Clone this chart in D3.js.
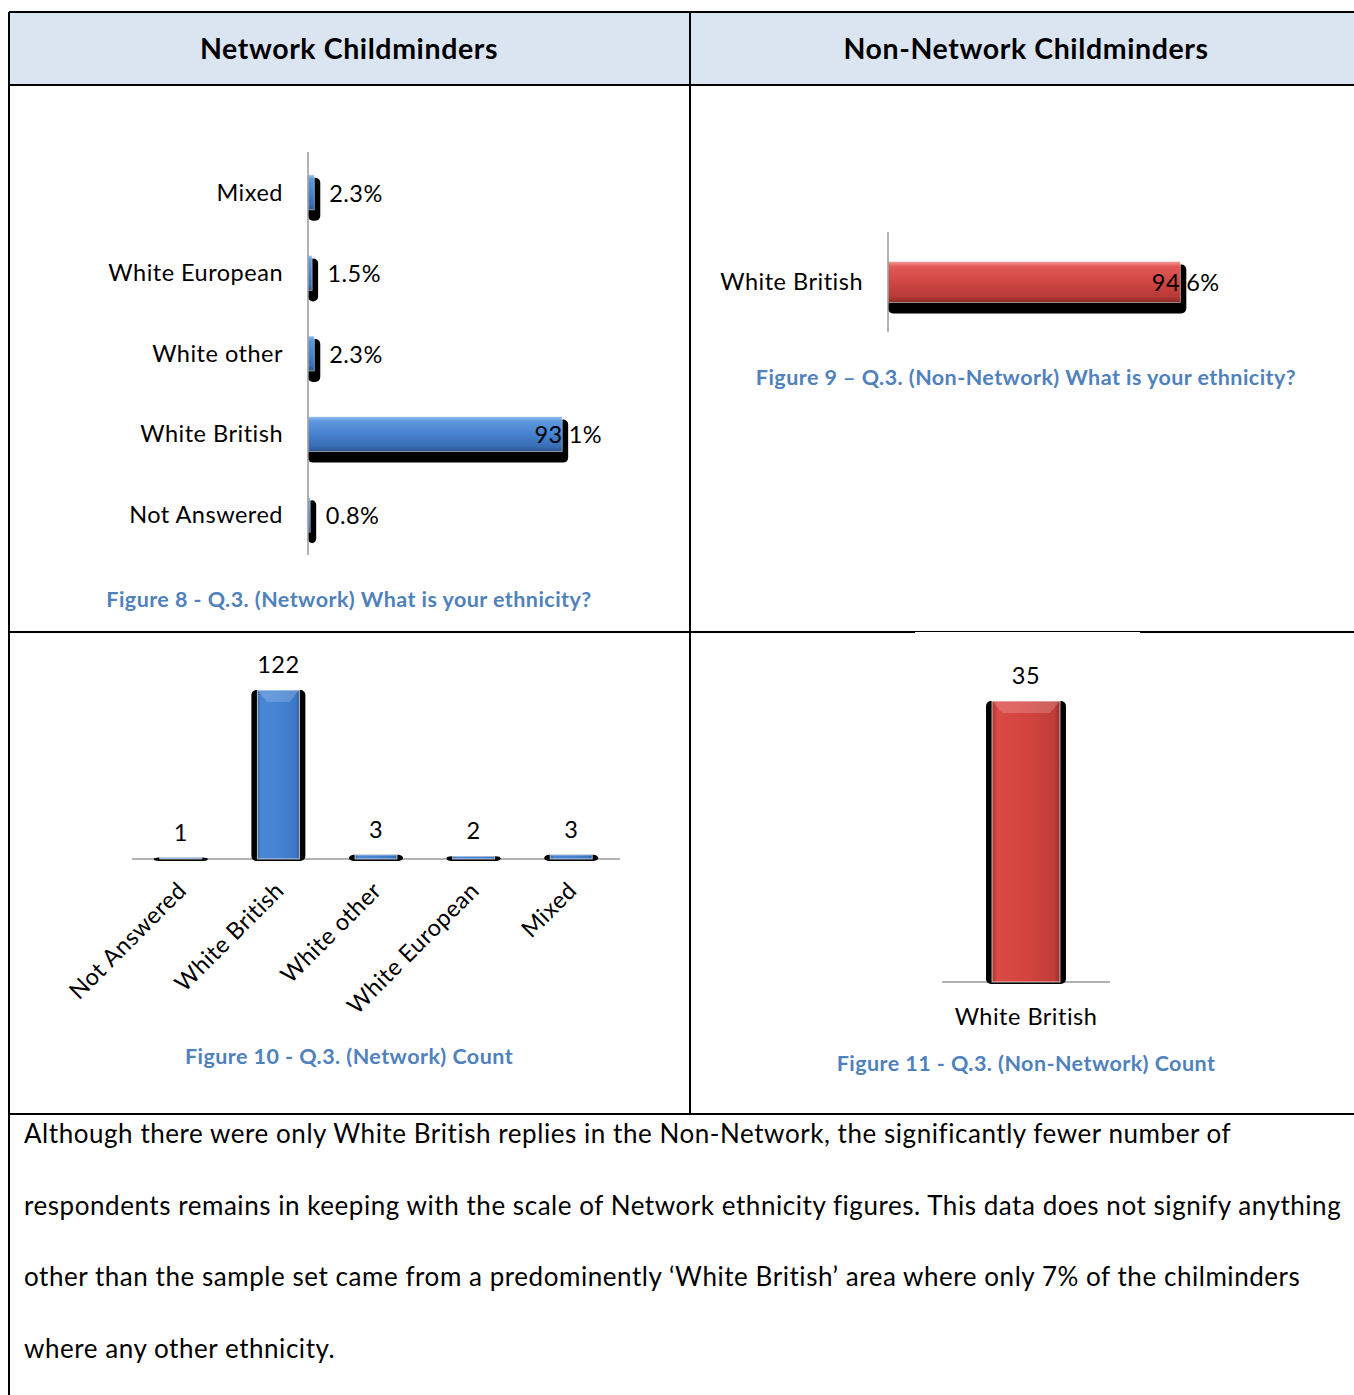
<!DOCTYPE html>
<html>
<head>
<meta charset="utf-8">
<script src="https://cdnjs.cloudflare.com/ajax/libs/d3/7.8.5/d3.min.js"></script>
<style>
  html, body { margin: 0; padding: 0; background: #fff; }
  svg { display: block; font-family: Lato, 'Noto Sans', sans-serif; }
</style>
</head>
<body>
<svg id="page" width="1354" height="1395"></svg>
<script>
'use strict';

// headers and captions
const headers = ['Network Childminders', 'Non-Network Childminders'];
const captions = [
  'Figure 8 - Q.3. (Network) What is your ethnicity?',
  'Figure 9 \u2013 Q.3. (Non-Network) What is your ethnicity?',
  'Figure 10 - Q.3. (Network) Count',
  'Figure 11 - Q.3. (Non-Network) Count',
];

// Figure 8 / 9 - percentages (top to bottom)
const networkCategories = ['Mixed', 'White European', 'White other', 'White British', 'Not Answered'];
const networkPercent = [2.3, 1.5, 2.3, 93.1, 0.8];
const nonNetworkCategories = ['White British'];
const nonNetworkPercent = [94.6];

// Figure 10 / 11 - counts (left to right)
const countCategories = ['Not Answered', 'White British', 'White other', 'White European', 'Mixed'];
const networkCount = [1, 122, 3, 2, 3];
const nonNetworkCount = [35];

const paragraph = [
  'Although there were only White British replies in the Non-Network, the significantly fewer number of',
  'respondents remains in keeping with the scale of Network ethnicity figures. This data does not signify anything',
  'other than the sample set came from a predominently \u2018White British\u2019 area where only 7% of the chilminders',
  'where any other ethnicity.',
];

const svg = d3.select('#page');
const captionColour = '#4f81bd';
const labelSize = 23.5;
const labelSpacing = 0.5;

// gradients for the bevelled bars
const defs = svg.append('defs');
function addGradient(id, stops, vertical) {
  const grad = defs
    .append('linearGradient')
    .attr('id', id)
    .attr('x1', 0)
    .attr('y1', 0)
    .attr('x2', vertical ? 0 : 1)
    .attr('y2', vertical ? 1 : 0);
  stops.forEach(function(s) {
    grad.append('stop').attr('offset', s[0]).attr('stop-color', s[1]);
  });
}
addGradient('blueH', [[0, '#9cc3f0'], [0.12, '#5e98dd'], [0.5, '#4682cf'], [0.85, '#3a6eb6'], [1, '#2b548e']], true);
addGradient('redH', [[0, '#f39b98'], [0.12, '#e25a57'], [0.5, '#cf4642'], [0.85, '#b73a37'], [1, '#8c2a28']], true);
addGradient('blueV', [[0, '#2f64aa'], [0.08, '#4a88d6'], [0.5, '#4583d2'], [0.92, '#3d78c4'], [1, '#2a5a9a']], false);
addGradient('redV', [[0, '#a83330'], [0.08, '#db4a46'], [0.5, '#d4443f'], [0.92, '#c03d39'], [1, '#952c2a']], false);

/**
 * table grid with header row
 */
function drawTable() {
  svg.append('rect')
    .attr('x', 9).attr('y', 12)
    .attr('width', 1354 - 9).attr('height', 73)
    .attr('fill', '#dbe5f1');

  const lines = [
    [9, 12, 1354, 12],
    [9, 85, 1354, 85],
    [9, 632, 915, 632],
    [1140, 632, 1354, 632],
    [9, 1114, 1354, 1114],
    [9, 12, 9, 1395],
    [690, 12, 690, 1114],
  ];
  svg.selectAll('line.grid')
    .data(lines)
    .enter()
    .append('line')
    .attr('class', 'grid')
    .attr('x1', d => d[0]).attr('y1', d => d[1])
    .attr('x2', d => d[2]).attr('y2', d => d[3])
    .attr('stroke', '#000')
    .attr('stroke-width', 2);
  // thin piece of the row divider
  svg.append('line')
    .attr('x1', 915).attr('y1', 631.5).attr('x2', 1140).attr('y2', 631.5)
    .attr('stroke', '#000').attr('stroke-width', 1);

  svg.selectAll('text.header')
    .data(headers)
    .enter()
    .append('text')
    .attr('class', 'header')
    .attr('x', (d, i) => (i === 0 ? 349 : 1026))
    .attr('y', 59)
    .attr('text-anchor', 'middle')
    .attr('font-size', 28.5)
    .attr('letter-spacing', 0.6)
    .attr('font-weight', 'bold')
    .text(d => d);
}

/**
 * caption below a figure
 */
function drawCaption(text, x, y) {
  svg.append('text')
    .attr('x', x)
    .attr('y', y)
    .attr('text-anchor', 'middle')
    .attr('font-size', 21.5)
    .attr('letter-spacing', 0.45)
    .attr('font-weight', 'bold')
    .attr('fill', captionColour)
    .text(text);
}

/**
 * horizontal percentage bars with black drop shadow
 * @param {Object} o - x0, width (for 100%), y range, padding, gradient
 */
function drawHBars(categories, values, o) {
  const g = svg.append('g');
  const x = d3.scaleLinear().domain([0, 100]).range([o.x0, o.x0 + o.width]);
  const y = d3.scaleBand()
    .domain(categories)
    .range(o.yRange)
    .paddingInner(o.padding)
    .paddingOuter(o.outer);
  const data = categories.map((c, i) => ({ c: c, v: values[i] }));

  // shadow
  g.selectAll('rect.shadow')
    .data(data)
    .enter()
    .append('rect')
    .attr('class', 'shadow')
    .attr('x', o.x0)
    .attr('y', d => y(d.c) + 3)
    .attr('width', d => x(d.v) - o.x0 + 6)
    .attr('height', y.bandwidth() + 8)
    .attr('rx', 5)
    .attr('fill', '#000');

  g.selectAll('rect.bar')
    .data(data)
    .enter()
    .append('rect')
    .attr('class', 'bar')
    .attr('x', o.x0)
    .attr('y', d => y(d.c))
    .attr('width', d => x(d.v) - o.x0)
    .attr('height', y.bandwidth())
    .attr('fill', 'url(#' + o.fill + ')')
    .attr('stroke', '#fff')
    .attr('stroke-opacity', 0.6)
    .attr('stroke-width', 0.8);

  // axis line
  g.append('line')
    .attr('x1', o.x0).attr('x2', o.x0)
    .attr('y1', o.yRange[0]).attr('y2', o.yRange[1])
    .attr('stroke', '#999')
    .attr('stroke-width', 1.5);

  // category labels
  g.selectAll('text.cat')
    .data(data)
    .enter()
    .append('text')
    .attr('class', 'cat')
    .attr('x', o.x0 - 25)
    .attr('y', d => y(d.c) + y.bandwidth() / 2)
    .attr('dy', '0.35em')
    .attr('text-anchor', 'end')
    .attr('font-size', labelSize)
    .attr('letter-spacing', labelSpacing)
    .text(d => d.c);

  // value labels (the big bars get them drawn over their ends)
  g.selectAll('text.val')
    .data(data)
    .enter()
    .append('text')
    .attr('class', 'val')
    .attr('x', d => x(d.v) + 16 - d.v * 0.47)
    .attr('y', d => y(d.c) + y.bandwidth() / 2 + 1)
    .attr('dy', '0.35em')
    .attr('font-size', labelSize)
    .attr('letter-spacing', labelSpacing)
    .text(d => d.v.toFixed(1) + '%');
}

/**
 * vertical count columns
 * @param {Object} o - x range, baseline, top, padding, gradient
 */
function drawColumns(categories, values, o) {
  const g = svg.append('g');
  const x = d3.scaleBand()
    .domain(categories)
    .range(o.xRange)
    .paddingInner(o.padding)
    .paddingOuter(o.outer);
  const y = d3.scaleLinear()
    .domain([0, d3.max(values)])
    .range([o.base, o.top]);
  const data = categories.map((c, i) => ({ c: c, v: values[i] }));

  g.append('line')
    .attr('x1', o.xRange[0]).attr('x2', o.xRange[1])
    .attr('y1', o.base).attr('y2', o.base)
    .attr('stroke', '#999')
    .attr('stroke-width', 1.5);

  // dark sides
  g.selectAll('rect.shadow')
    .data(data)
    .enter()
    .append('rect')
    .attr('class', 'shadow')
    .attr('x', d => x(d.c) - 6)
    .attr('y', d => y(d.v))
    .attr('width', x.bandwidth() + 12)
    .attr('height', d => o.base - y(d.v) + 2)
    .attr('rx', 5)
    .attr('fill', '#000');

  g.selectAll('rect.bar')
    .data(data)
    .enter()
    .append('rect')
    .attr('class', 'bar')
    .attr('x', d => x(d.c))
    .attr('y', d => y(d.v))
    .attr('width', x.bandwidth())
    .attr('height', d => o.base - y(d.v))
    .attr('fill', 'url(#' + o.fill + ')')
    .attr('stroke', '#fff')
    .attr('stroke-opacity', 0.7)
    .attr('stroke-width', 1);

  // light bevel on top
  g.selectAll('path.bevel')
    .data(data.filter(d => o.base - y(d.v) > 20))
    .enter()
    .append('path')
    .attr('class', 'bevel')
    .attr('d', function(d) {
      const x0 = x(d.c);
      const x1 = x0 + x.bandwidth();
      const t = y(d.v);
      return 'M' + x0 + ',' + t + 'L' + x1 + ',' + t + 'L' + (x1 - 10) + ',' + (t + 12) +
        'L' + (x0 + 10) + ',' + (t + 12) + 'Z';
    })
    .attr('fill', '#fff')
    .attr('opacity', 0.18);

  g.selectAll('text.val')
    .data(data)
    .enter()
    .append('text')
    .attr('class', 'val')
    .attr('x', d => x(d.c) + x.bandwidth() / 2)
    .attr('y', d => y(d.v) - 17)
    .attr('text-anchor', 'middle')
    .attr('font-size', labelSize)
    .attr('letter-spacing', labelSpacing)
    .text(d => d.v);

  if (o.rotate) {
    g.selectAll('text.cat')
      .data(data)
      .enter()
      .append('text')
      .attr('class', 'cat')
      .attr('transform', d =>
        'translate(' + (x(d.c) + x.bandwidth() / 2 + 7) + ',' + (o.base + 33) + ') rotate(-45)')
      .attr('text-anchor', 'end')
      .attr('font-size', labelSize)
      .attr('letter-spacing', labelSpacing)
      .text(d => d.c);
  } else {
    g.selectAll('text.cat')
      .data(data)
      .enter()
      .append('text')
      .attr('class', 'cat')
      .attr('x', d => x(d.c) + x.bandwidth() / 2)
      .attr('y', o.base + 43)
      .attr('text-anchor', 'middle')
      .attr('font-size', labelSize)
      .attr('letter-spacing', labelSpacing)
      .text(d => d.c);
  }
}

drawTable();

drawHBars(networkCategories, networkPercent, {
  x0: 308, width: 273, yRange: [152, 555], padding: 0.566, outer: 0.283, fill: 'blueH',
});
drawCaption(captions[0], 349, 607);

drawHBars(nonNetworkCategories, nonNetworkPercent, {
  x0: 888, width: 309, yRange: [232, 332], padding: 0, outer: 0.72, fill: 'redH',
});
drawCaption(captions[1], 1026, 385);

drawColumns(countCategories, networkCount, {
  xRange: [132, 620], base: 859, top: 690, padding: 0.57, outer: 0.285, fill: 'blueV', rotate: true,
});
drawCaption(captions[2], 349, 1064);

drawColumns(['White British'], nonNetworkCount, {
  xRange: [942, 1110], base: 982, top: 701, padding: 0.424, outer: 0.424, fill: 'redV', rotate: false,
});
drawCaption(captions[3], 1026, 1071);

// closing paragraph
svg.selectAll('text.para')
  .data(paragraph)
  .enter()
  .append('text')
  .attr('class', 'para')
  .attr('x', 24)
  .attr('y', (d, i) => 1143 + i * 71.7)
  .attr('font-size', 26)
  .attr('letter-spacing', 0.55)
  .text(d => d);
</script>
</body>
</html>
